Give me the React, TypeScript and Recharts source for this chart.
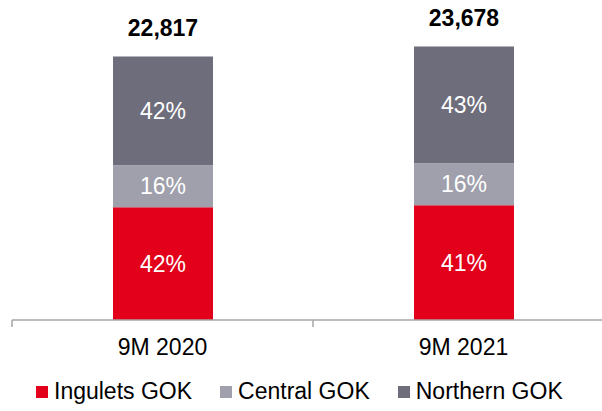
import { Bar, BarChart, LabelList, Legend, XAxis, YAxis } from 'recharts'

const categories = ['9M 2020', '9M 2021']
const totals = [22817, 23678]
const ingulets = [9750, 9930]
const central = [3650, 3630]
const northern = [9417, 10118]
const ingShare = [42, 41]
const cenShare = [16, 16]
const norShare = [42, 43]

const seriesNames = ['Ingulets GOK', 'Central GOK', 'Northern GOK']
const colors = ['#E2001A', '#A09FAC', '#6E6D7B']

const FONT = '"Liberation Sans", Arial, sans-serif'
const FS = 23
const CHART_W = 620
const MARGIN = { top: 0, right: 6, left: 12, bottom: 0 }
const halfBand = (CHART_W - MARGIN.left - MARGIN.right) / categories.length / 2

const data = categories.map((name, i) => ({
  name,
  ingulets: ingulets[i],
  central: central[i],
  northern: northern[i],
  total: totals[i],
  ingShare: ingShare[i],
  cenShare: cenShare[i],
  norShare: norShare[i]
}))

const CategoryTick = (props: any) => {
  const { x, y, payload, index, visibleTicksCount } = props
  const isLast = index === visibleTicksCount - 1
  return (
    <g>
      <line x1={x - halfBand} x2={x - halfBand} y1={y} y2={y + 7} stroke="#A6A6A6" strokeWidth={1.5} />
      {isLast && (
        <line x1={x + halfBand} x2={x + halfBand} y1={y} y2={y + 7} stroke="#A6A6A6" strokeWidth={1.5} />
      )}
      <text x={x} y={y + 35} textAnchor="middle" fontSize={FS} fill="#000" fontFamily={FONT}>
        {payload.value}
      </text>
    </g>
  )
}

const renderLegend = (props: any) => {
  const items = [...props.payload].sort(
    (a: any, b: any) => seriesNames.indexOf(a.value) - seriesNames.indexOf(b.value)
  )
  return (
    <div style={{ display: 'flex', alignItems: 'center', height: 51, paddingLeft: 24, paddingTop: 12, boxSizing: 'border-box' }}>
      {items.map((entry: any) => (
        <div key={entry.value} style={{ display: 'flex', alignItems: 'center', marginRight: 28 }}>
          <span style={{ width: 12, height: 12, background: entry.color, marginRight: 6, display: 'inline-block' }} />
          <span style={{ fontSize: FS, color: '#000', fontFamily: FONT }}>{entry.value}</span>
        </div>
      ))}
    </div>
  )
}

const App = () => {
  return (
    <div style={{ position: 'absolute', left: 0, top: 0, width: 602, height: 411, overflow: 'hidden', background: '#fff' }}>
      <BarChart width={CHART_W} height={411} data={data} margin={MARGIN} barSize={100}>
        <YAxis hide domain={[0, 27700]} />
        <XAxis
          dataKey="name"
          height={40}
          axisLine={{ stroke: '#A6A6A6', strokeWidth: 1.5 }}
          tickLine={false}
          tickSize={0}
          tickMargin={0}
          tick={<CategoryTick />}
          interval={0}
        />
        <Legend verticalAlign="bottom" height={51} content={renderLegend} />
        <Bar dataKey="ingulets" name={seriesNames[0]} stackId="a" fill={colors[0]} isAnimationActive={false}>
          <LabelList dataKey="ingShare" position="center" fill="#fff" fontSize={FS} fontFamily={FONT} formatter={(v: any) => `${v}%`} />
        </Bar>
        <Bar dataKey="central" name={seriesNames[1]} stackId="a" fill={colors[1]} isAnimationActive={false}>
          <LabelList dataKey="cenShare" position="center" fill="#fff" fontSize={FS} fontFamily={FONT} formatter={(v: any) => `${v}%`} />
        </Bar>
        <Bar dataKey="northern" name={seriesNames[2]} stackId="a" fill={colors[2]} isAnimationActive={false}>
          <LabelList dataKey="norShare" position="center" fill="#fff" fontSize={FS} fontFamily={FONT} formatter={(v: any) => `${v}%`} />
          <LabelList
            dataKey="total"
            position="top"
            offset={20}
            fill="#000"
            fontSize={FS}
            fontWeight="bold"
            fontFamily={FONT}
            formatter={(v: any) => Number(v).toLocaleString('en-US')}
          />
        </Bar>
      </BarChart>
    </div>
  )
}

export default App
